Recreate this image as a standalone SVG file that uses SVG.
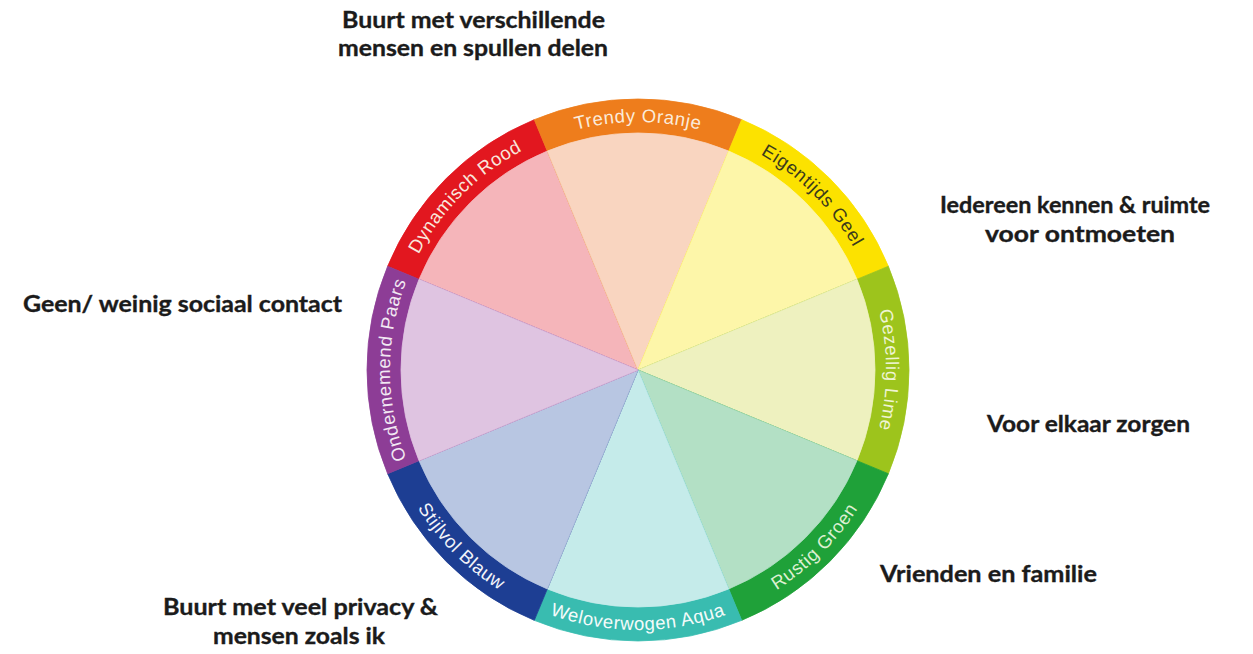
<svg xmlns="http://www.w3.org/2000/svg" xmlns:xlink="http://www.w3.org/1999/xlink" width="1253" height="654" viewBox="0 0 1253 654">
  <style>
    .ring-label { font-family: "Liberation Sans", Arial, sans-serif; font-size: 18.5px; letter-spacing: 0.6px; }
    .theme { font-family: Lato, "Liberation Sans", sans-serif; font-weight: bold; font-size: 22.5px; fill: #1b1b1b; stroke: #1b1b1b; stroke-width: 0.35px; }
    .band, .wedge { stroke-width: 0.8px; stroke-linejoin: round; }
  </style>
  <defs>
    <!-- clockwise baselines (text reads along the outside) -->
    <path id="arc-rood" d="M 390.94 348.38 A 248 248 0 0 1 616.38 122.94"/>
    <path id="arc-oranje" d="M 478.59 180.02 A 248 248 0 0 1 797.41 180.02"/>
    <path id="arc-geel" d="M 659.62 122.94 A 248 248 0 0 1 885.06 348.38"/>
    <path id="arc-lime" d="M 827.98 210.59 A 248 248 0 0 1 827.98 529.41"/>
    <path id="arc-paars" d="M 448.02 529.41 A 248 248 0 0 1 448.02 210.59"/>
    <!-- counter-clockwise baselines along the bottom -->
    <path id="arc-groen" d="M 660.66 629.01 A 260 260 0 0 0 897.01 392.66"/>
    <path id="arc-aqua" d="M 470.87 569.17 A 260 260 0 0 0 805.13 569.17"/>
    <path id="arc-blauw" d="M 378.99 392.66 A 260 260 0 0 0 615.34 629.01"/>
  </defs>

  <rect width="1253" height="654" fill="#ffffff"/>

  <!-- colour wheel segments: outer band + pastel wedge + band label -->
  <g id="seg-rood">
    <path class="band" d="M 638 370 L 387.63 266.29 A 271 271 0 0 1 534.29 119.63 Z" fill="#E2171F" stroke="#E2171F"/>
    <path class="wedge" d="M 638 370 L 419.04 279.30 A 237 237 0 0 1 547.30 151.04 Z" fill="#F5B5BA" stroke="#F5B5BA"/>
    <text class="ring-label" fill="#F9E6DC"><textPath href="#arc-rood" startOffset="50%" text-anchor="middle">Dynamisch Rood</textPath></text>
  </g>
  <g id="seg-oranje">
    <path class="band" d="M 638 370 L 534.29 119.63 A 271 271 0 0 1 741.71 119.63 Z" fill="#EE7D1C" stroke="#EE7D1C"/>
    <path class="wedge" d="M 638 370 L 547.30 151.04 A 237 237 0 0 1 728.70 151.04 Z" fill="#F9D5C0" stroke="#F9D5C0"/>
    <text class="ring-label" fill="#FBEBDA"><textPath href="#arc-oranje" startOffset="50%" text-anchor="middle">Trendy Oranje</textPath></text>
  </g>
  <g id="seg-geel">
    <path class="band" d="M 638 370 L 741.71 119.63 A 271 271 0 0 1 888.37 266.29 Z" fill="#FCE200" stroke="#FCE200"/>
    <path class="wedge" d="M 638 370 L 728.70 151.04 A 237 237 0 0 1 856.96 279.30 Z" fill="#FDF6A9" stroke="#FDF6A9"/>
    <text class="ring-label" fill="#3B3A1C"><textPath href="#arc-geel" startOffset="50%" text-anchor="middle">Eigentijds Geel</textPath></text>
  </g>
  <g id="seg-lime">
    <path class="band" d="M 638 370 L 888.37 266.29 A 271 271 0 0 1 888.37 473.71 Z" fill="#9DC41C" stroke="#9DC41C"/>
    <path class="wedge" d="M 638 370 L 856.96 279.30 A 237 237 0 0 1 856.96 460.70 Z" fill="#EEF1BF" stroke="#EEF1BF"/>
    <text class="ring-label" fill="#EEF4D2"><textPath href="#arc-lime" startOffset="50%" text-anchor="middle">Gezellig Lime</textPath></text>
  </g>
  <g id="seg-groen">
    <path class="band" d="M 638 370 L 888.37 473.71 A 271 271 0 0 1 741.71 620.37 Z" fill="#1FA139" stroke="#1FA139"/>
    <path class="wedge" d="M 638 370 L 856.96 460.70 A 237 237 0 0 1 728.70 588.96 Z" fill="#B3E0C5" stroke="#B3E0C5"/>
    <text class="ring-label" fill="#DCF0D2"><textPath href="#arc-groen" startOffset="50%" text-anchor="middle">Rustig Groen</textPath></text>
  </g>
  <g id="seg-aqua">
    <path class="band" d="M 638 370 L 741.71 620.37 A 271 271 0 0 1 534.29 620.37 Z" fill="#39BCB0" stroke="#39BCB0"/>
    <path class="wedge" d="M 638 370 L 728.70 588.96 A 237 237 0 0 1 547.30 588.96 Z" fill="#C5EBEA" stroke="#C5EBEA"/>
    <text class="ring-label" fill="#F4FBFA"><textPath href="#arc-aqua" startOffset="50%" text-anchor="middle">Weloverwogen Aqua</textPath></text>
  </g>
  <g id="seg-blauw">
    <path class="band" d="M 638 370 L 534.29 620.37 A 271 271 0 0 1 387.63 473.71 Z" fill="#1D3E93" stroke="#1D3E93"/>
    <path class="wedge" d="M 638 370 L 547.30 588.96 A 237 237 0 0 1 419.04 460.70 Z" fill="#B8C6E2" stroke="#B8C6E2"/>
    <text class="ring-label" fill="#F2F4FA"><textPath href="#arc-blauw" startOffset="50%" text-anchor="middle">Stijlvol Blauw</textPath></text>
  </g>
  <g id="seg-paars">
    <path class="band" d="M 638 370 L 387.63 473.71 A 271 271 0 0 1 387.63 266.29 Z" fill="#8D3D96" stroke="#8D3D96"/>
    <path class="wedge" d="M 638 370 L 419.04 460.70 A 237 237 0 0 1 419.04 279.30 Z" fill="#DFC4E1" stroke="#DFC4E1"/>
    <text class="ring-label" fill="#F2E8F3"><textPath href="#arc-paars" startOffset="50%" text-anchor="middle">Ondernemend Paars</textPath></text>
  </g>

  <!-- themes placed around the wheel -->
  <g id="theme-delen">
    <text class="theme" x="342" y="28" textLength="263" lengthAdjust="spacingAndGlyphs">Buurt met verschillende</text>
    <text class="theme" x="338" y="56" textLength="270" lengthAdjust="spacingAndGlyphs">mensen en spullen delen</text>
  </g>
  <g id="theme-ontmoeten">
    <text class="theme" x="940" y="213" textLength="270" lengthAdjust="spacingAndGlyphs">Iedereen kennen &amp; ruimte</text>
    <text class="theme" x="985" y="242" textLength="190" lengthAdjust="spacingAndGlyphs">voor ontmoeten</text>
  </g>
  <g id="theme-contact">
    <text class="theme" x="23" y="312" textLength="319" lengthAdjust="spacingAndGlyphs">Geen/ weinig sociaal contact</text>
  </g>
  <g id="theme-zorgen">
    <text class="theme" x="987" y="432" textLength="203" lengthAdjust="spacingAndGlyphs">Voor elkaar zorgen</text>
  </g>
  <g id="theme-familie">
    <text class="theme" x="880" y="582" textLength="217" lengthAdjust="spacingAndGlyphs">Vrienden en familie</text>
  </g>
  <g id="theme-privacy">
    <text class="theme" x="163" y="615" textLength="275" lengthAdjust="spacingAndGlyphs">Buurt met veel privacy &amp;</text>
    <text class="theme" x="213" y="644" textLength="172" lengthAdjust="spacingAndGlyphs">mensen zoals ik</text>
  </g>

  <g id="connectors"/>
</svg>
